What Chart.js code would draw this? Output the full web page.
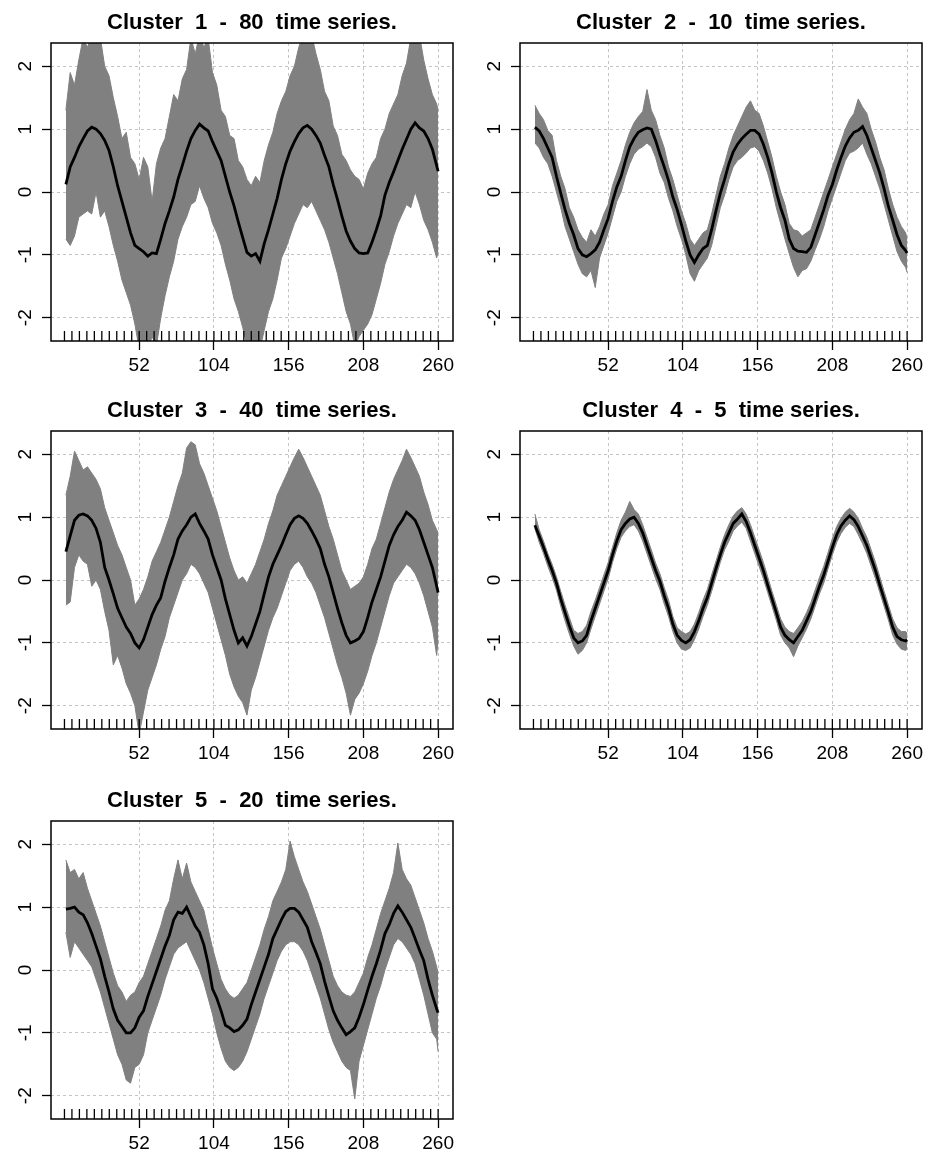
<!DOCTYPE html>
<html><head><meta charset="utf-8">
<script src="https://cdn.jsdelivr.net/npm/chart.js@4.4.0/dist/chart.umd.min.js"></script>
<style>
html,body{margin:0;padding:0;background:#fff;}
#wrap{position:relative;width:931px;height:1153px;background:#fff;}
canvas{position:absolute;}
</style></head><body><div id="wrap">
<canvas id="p1" width="465" height="388" style="left:0px;top:0px"></canvas>
<canvas id="p2" width="465" height="388" style="left:469px;top:0px"></canvas>
<canvas id="p3" width="465" height="388" style="left:0px;top:388px"></canvas>
<canvas id="p4" width="465" height="388" style="left:469px;top:388px"></canvas>
<canvas id="p5" width="465" height="388" style="left:0px;top:778px"></canvas>
</div>
<script>
const X_VALUES=[1,4,7,10,13,16,19,22,25,28,31,
34,37,40,43,46,49,52,55,58,61,64,
67,70,73,76,79,82,85,88,91,94,97,
100,103,106,109,112,115,118,121,124,127,130,
133,136,139,142,145,148,151,154,157,160,163,
166,169,172,175,178,181,184,187,190,193,196,
199,202,205,208,211,214,217,220,223,226,229,
232,235,238,241,244,247,250,253,256,259,260];

const TITLES=["Cluster  1  -  80  time series.","Cluster  2  -  10  time series.","Cluster  3  -  40  time series.","Cluster  4  -  5  time series.","Cluster  5  -  20  time series."];
const X_TICKS=[52,104,156,208,260];
const Y_TICKS=[-2,-1,0,1,2];
const RUG_TICKS=[0,5.2,10.4,15.6,20.8,26,31.2,36.4,41.6,46.8,52,57.2,62.4,67.6,72.8,78,83.2,88.4,93.6,98.8,104,109.2,114.4,119.6,124.8,130,135.2,140.4,145.6,150.8,156,161.2,166.4,171.6,176.8,182,187.2,192.4,197.6,202.8,208,213.2,218.4,223.6,228.8,234,239.2,244.4,249.6,254.8,260];

const C1_MEAN=[0.12,0.40,0.55,0.72,0.85,0.97,1.03,1.00,0.93,0.82,0.66,
0.40,0.10,-0.15,-0.40,-0.65,-0.85,-0.90,-0.95,-1.02,-0.97,-0.98,
-0.75,-0.50,-0.30,-0.08,0.20,0.42,0.65,0.85,0.98,1.08,1.02,
0.97,0.80,0.65,0.50,0.25,0.00,-0.22,-0.48,-0.72,-0.96,-1.02,
-0.98,-1.10,-0.82,-0.60,-0.35,-0.10,0.20,0.45,0.65,0.80,0.93,
1.02,1.06,1.00,0.90,0.78,0.58,0.40,0.12,-0.12,-0.38,-0.62,
-0.78,-0.90,-0.97,-0.98,-0.97,-0.80,-0.60,-0.38,-0.05,0.15,0.32,
0.50,0.68,0.84,1.00,1.10,1.02,0.97,0.85,0.68,0.42,0.33];
const C1_UPPER=[1.30,1.90,1.70,2.10,2.45,2.30,2.50,2.40,2.45,2.00,1.85,
1.50,1.20,0.85,0.95,0.55,0.45,0.20,0.55,0.40,-0.15,0.45,
0.70,0.85,1.20,1.55,1.45,1.80,1.95,2.45,2.20,2.50,2.30,
2.45,1.90,1.70,1.30,1.20,0.90,0.85,0.50,0.40,0.20,0.10,
0.25,0.15,0.50,0.75,0.95,1.25,1.45,1.60,1.85,2.00,2.30,
2.50,2.40,2.50,2.20,1.95,1.60,1.45,1.05,0.90,0.60,0.50,
0.35,0.25,0.20,0.05,0.30,0.45,0.55,0.85,1.00,1.25,1.40,
1.55,1.85,2.05,2.45,2.35,2.50,2.10,1.80,1.55,1.40,1.30];
const C1_LOWER=[-0.75,-0.85,-0.70,-0.40,-0.35,-0.30,-0.35,0.00,-0.40,-0.30,-0.55,
-0.85,-1.10,-1.40,-1.60,-1.80,-2.10,-2.50,-2.45,-2.50,-2.30,-2.45,
-2.00,-1.65,-1.35,-1.10,-0.75,-0.55,-0.40,-0.20,-0.15,0.10,-0.10,
-0.25,-0.50,-0.65,-0.85,-1.15,-1.40,-1.70,-1.90,-2.15,-2.45,-2.50,
-2.40,-2.50,-2.20,-1.90,-1.70,-1.40,-1.05,-0.90,-0.70,-0.50,-0.35,
-0.20,-0.25,-0.15,-0.30,-0.45,-0.60,-0.80,-1.05,-1.30,-1.60,-1.90,
-2.10,-2.45,-2.30,-2.20,-2.10,-1.95,-1.70,-1.45,-1.15,-0.95,-0.70,
-0.50,-0.35,-0.20,-0.25,0.00,-0.20,-0.45,-0.60,-0.80,-1.05,-0.95];

const C2_MEAN=[1.03,0.97,0.85,0.70,0.55,0.25,-0.02,-0.28,-0.50,-0.68,-0.90,
-1.00,-1.03,-0.98,-0.92,-0.80,-0.60,-0.42,-0.15,0.08,0.25,0.50,
0.72,0.85,0.95,0.99,1.02,1.00,0.82,0.60,0.40,0.18,-0.08,
-0.28,-0.52,-0.78,-1.00,-1.12,-1.00,-0.90,-0.85,-0.60,-0.30,-0.02,
0.20,0.45,0.64,0.76,0.85,0.92,0.98,0.98,0.92,0.76,0.55,
0.30,0.00,-0.25,-0.45,-0.75,-0.90,-0.94,-0.95,-0.96,-0.88,-0.68,
-0.48,-0.28,-0.05,0.12,0.35,0.55,0.73,0.86,0.95,0.98,1.04,
0.90,0.70,0.50,0.30,0.05,-0.23,-0.45,-0.68,-0.85,-0.93,-0.97];
const C2_UPPER=[1.38,1.25,1.15,0.98,0.90,0.50,0.25,0.05,-0.25,-0.40,-0.60,
-0.72,-0.80,-0.60,-0.70,-0.55,-0.35,-0.20,0.10,0.30,0.50,0.75,
0.95,1.10,1.20,1.28,1.63,1.30,1.15,0.90,0.70,0.40,0.20,
-0.05,-0.30,-0.50,-0.75,-0.85,-0.75,-0.65,-0.60,-0.35,-0.05,0.25,
0.45,0.70,0.90,1.05,1.20,1.35,1.45,1.30,1.25,1.05,0.80,
0.55,0.25,0.00,-0.20,-0.50,-0.60,-0.62,-0.70,-0.65,-0.60,-0.40,
-0.20,0.00,0.20,0.40,0.60,0.80,1.00,1.15,1.25,1.48,1.35,
1.25,1.00,0.80,0.55,0.35,0.05,-0.20,-0.40,-0.55,-0.65,-0.75];
const C2_LOWER=[0.78,0.70,0.55,0.45,0.25,0.00,-0.25,-0.55,-0.75,-0.95,-1.15,
-1.30,-1.35,-1.25,-1.52,-1.05,-0.85,-0.65,-0.40,-0.15,0.00,0.25,
0.45,0.60,0.68,0.72,0.78,0.72,0.55,0.30,0.15,-0.10,-0.30,
-0.55,-0.75,-1.00,-1.30,-1.42,-1.25,-1.15,-1.05,-0.85,-0.55,-0.25,
-0.05,0.20,0.40,0.50,0.55,0.62,0.70,0.72,0.65,0.50,0.30,
0.05,-0.25,-0.50,-0.75,-0.98,-1.20,-1.35,-1.25,-1.22,-1.10,-0.92,
-0.75,-0.55,-0.30,-0.10,0.10,0.30,0.50,0.62,0.65,0.70,0.78,
0.60,0.45,0.25,0.05,-0.20,-0.45,-0.70,-0.95,-1.10,-1.20,-1.28];

const C3_MEAN=[0.45,0.70,0.95,1.03,1.05,1.02,0.95,0.82,0.60,0.20,0.00,
-0.22,-0.45,-0.60,-0.75,-0.85,-1.00,-1.08,-0.95,-0.75,-0.55,-0.40,
-0.28,-0.02,0.20,0.40,0.65,0.78,0.88,1.00,1.05,0.90,0.78,
0.65,0.40,0.20,0.00,-0.30,-0.55,-0.80,-1.00,-0.92,-1.05,-0.90,
-0.70,-0.50,-0.22,0.05,0.25,0.40,0.55,0.72,0.88,0.98,1.02,
0.98,0.90,0.78,0.65,0.50,0.25,0.05,-0.20,-0.45,-0.68,-0.88,
-1.00,-0.97,-0.93,-0.82,-0.60,-0.35,-0.15,0.05,0.30,0.55,0.72,
0.85,0.95,1.08,1.02,0.95,0.80,0.60,0.40,0.20,-0.10,-0.20];
const C3_UPPER=[1.35,1.65,2.05,1.90,1.75,1.80,1.70,1.60,1.45,1.15,0.95,
0.75,0.55,0.40,0.20,0.00,-0.40,-0.30,-0.15,0.05,0.30,0.45,
0.60,0.80,1.00,1.25,1.50,1.70,2.10,2.20,2.15,1.85,1.70,
1.50,1.30,1.10,0.85,0.60,0.35,0.15,0.00,0.05,-0.05,0.10,
0.25,0.45,0.65,0.90,1.10,1.35,1.50,1.65,1.80,1.95,2.08,
1.95,1.80,1.65,1.50,1.35,1.10,0.85,0.65,0.40,0.15,0.00,
-0.15,-0.10,-0.05,0.05,0.25,0.50,0.65,0.90,1.15,1.40,1.60,
1.75,1.90,2.08,1.95,1.80,1.65,1.40,1.20,0.95,0.80,0.75];
const C3_LOWER=[-0.40,-0.35,0.20,0.40,0.30,0.25,-0.10,0.00,-0.15,-0.50,-0.80,
-1.35,-1.20,-1.40,-1.65,-1.80,-2.00,-2.45,-2.10,-1.75,-1.55,-1.35,
-1.10,-0.90,-0.60,-0.40,-0.20,0.00,0.10,0.25,0.20,0.10,-0.05,
-0.20,-0.45,-0.70,-0.95,-1.20,-1.50,-1.70,-1.85,-1.95,-2.15,-1.75,
-1.55,-1.30,-1.05,-0.80,-0.60,-0.45,-0.25,-0.05,0.15,0.25,0.30,
0.20,0.05,-0.05,-0.20,-0.40,-0.60,-0.85,-1.10,-1.35,-1.55,-1.80,
-2.15,-1.90,-1.80,-1.65,-1.45,-1.20,-1.00,-0.75,-0.50,-0.25,-0.05,
0.05,0.15,0.25,0.20,0.10,-0.05,-0.25,-0.50,-0.75,-1.20,-0.95];

const C4_MEAN=[0.87,0.70,0.52,0.33,0.15,-0.05,-0.30,-0.52,-0.73,-0.92,-1.00,
-0.97,-0.88,-0.65,-0.45,-0.25,-0.05,0.15,0.40,0.62,0.80,0.90,
0.97,1.00,0.90,0.75,0.55,0.35,0.15,-0.02,-0.25,-0.45,-0.70,
-0.88,-0.96,-1.00,-0.95,-0.82,-0.65,-0.45,-0.28,-0.05,0.18,0.40,
0.60,0.75,0.90,0.97,1.05,0.93,0.75,0.55,0.35,0.15,-0.08,
-0.30,-0.52,-0.75,-0.88,-0.95,-1.00,-0.90,-0.80,-0.65,-0.50,-0.30,
-0.10,0.08,0.30,0.52,0.72,0.86,0.95,1.02,0.96,0.85,0.70,
0.55,0.35,0.15,-0.08,-0.30,-0.52,-0.75,-0.90,-0.95,-0.97,-0.95];
const C4_UPPER=[1.05,0.80,0.62,0.42,0.25,0.05,-0.18,-0.40,-0.60,-0.80,-0.85,
-0.82,-0.72,-0.50,-0.32,-0.12,0.08,0.28,0.52,0.75,0.95,1.08,
1.25,1.12,1.05,0.88,0.68,0.48,0.27,0.10,-0.12,-0.32,-0.58,
-0.76,-0.82,-0.86,-0.82,-0.70,-0.52,-0.32,-0.15,0.08,0.30,0.52,
0.72,0.88,1.02,1.10,1.15,1.05,0.88,0.68,0.48,0.28,0.05,
-0.18,-0.40,-0.62,-0.75,-0.82,-0.85,-0.76,-0.66,-0.52,-0.36,-0.16,
0.04,0.22,0.44,0.66,0.85,0.98,1.08,1.14,1.08,0.98,0.82,
0.68,0.48,0.28,0.05,-0.18,-0.40,-0.62,-0.76,-0.82,-0.82,-0.85];
const C4_LOWER=[0.82,0.60,0.42,0.22,0.04,-0.16,-0.42,-0.65,-0.86,-1.05,-1.18,
-1.12,-1.00,-0.78,-0.58,-0.38,-0.18,0.02,0.28,0.50,0.68,0.78,
0.85,0.88,0.78,0.62,0.42,0.22,0.02,-0.15,-0.38,-0.58,-0.82,
-1.00,-1.10,-1.12,-1.08,-0.95,-0.78,-0.58,-0.40,-0.18,0.05,0.28,
0.48,0.62,0.78,0.86,0.92,0.82,0.62,0.42,0.22,0.02,-0.20,
-0.42,-0.64,-0.88,-1.00,-1.08,-1.22,-1.05,-0.92,-0.78,-0.62,-0.42,
-0.22,-0.05,0.18,0.40,0.60,0.74,0.84,0.90,0.85,0.72,0.58,
0.42,0.22,0.02,-0.20,-0.42,-0.64,-0.88,-1.02,-1.10,-1.12,-1.10];

const C5_MEAN=[0.97,0.98,1.00,0.92,0.88,0.75,0.58,0.38,0.18,-0.10,-0.35,
-0.62,-0.80,-0.90,-1.00,-1.00,-0.92,-0.75,-0.65,-0.42,-0.22,-0.02,
0.18,0.38,0.55,0.80,0.92,0.90,1.00,0.85,0.70,0.60,0.40,
0.10,-0.30,-0.45,-0.65,-0.88,-0.92,-0.98,-0.95,-0.88,-0.78,-0.55,
-0.35,-0.15,0.05,0.25,0.50,0.65,0.80,0.93,0.98,0.98,0.92,
0.80,0.68,0.45,0.28,0.10,-0.18,-0.42,-0.65,-0.80,-0.92,-1.03,
-0.98,-0.92,-0.75,-0.55,-0.32,-0.10,0.10,0.32,0.58,0.72,0.90,
1.02,0.92,0.80,0.68,0.50,0.32,0.15,-0.15,-0.40,-0.62,-0.68];
const C5_UPPER=[1.75,1.55,1.60,1.45,1.55,1.30,1.10,0.90,0.70,0.45,0.20,
-0.05,-0.25,-0.35,-0.50,-0.40,-0.35,-0.20,-0.10,0.10,0.30,0.50,
0.70,0.95,1.10,1.45,1.75,1.45,1.70,1.40,1.25,1.10,0.95,
0.65,0.35,0.10,-0.15,-0.30,-0.40,-0.45,-0.40,-0.30,-0.20,0.00,
0.20,0.40,0.65,0.85,1.10,1.25,1.40,1.60,2.05,1.80,1.60,
1.40,1.25,1.05,0.85,0.65,0.40,0.15,-0.10,-0.25,-0.35,-0.40,
-0.42,-0.35,-0.20,-0.05,0.20,0.40,0.65,0.90,1.10,1.30,1.55,
2.02,1.60,1.45,1.35,1.15,0.95,0.75,0.50,0.30,0.05,-0.05];
const C5_LOWER=[0.60,0.20,0.45,0.35,0.25,0.15,0.05,-0.15,-0.35,-0.60,-0.85,
-1.10,-1.35,-1.50,-1.75,-1.80,-1.55,-1.50,-1.35,-1.00,-0.80,-0.60,
-0.40,-0.15,0.05,0.25,0.35,0.40,0.45,0.30,0.15,0.00,-0.20,
-0.45,-0.70,-1.00,-1.25,-1.45,-1.55,-1.60,-1.55,-1.45,-1.30,-1.10,
-0.90,-0.70,-0.45,-0.25,-0.05,0.15,0.30,0.40,0.45,0.45,0.40,
0.30,0.15,-0.05,-0.25,-0.45,-0.70,-0.95,-1.15,-1.30,-1.45,-1.55,
-1.60,-2.05,-1.45,-1.20,-0.95,-0.70,-0.45,-0.25,0.00,0.20,0.40,
0.50,0.45,0.35,0.25,0.10,-0.15,-0.40,-0.70,-1.00,-1.10,-1.30];

const X_MIN=-9.36, X_MAX=270.36, Y_MIN=-2.37, Y_MAX=2.37;
const FONT="'Liberation Sans', Arial, Helvetica, sans-serif";
Chart.defaults.font.family=FONT;

const framePlugin={id:'frame',afterDatasetsDraw(chart){const ctx=chart.ctx,a=chart.chartArea;ctx.save();ctx.strokeStyle='#000';ctx.lineWidth=1.5;ctx.setLineDash([]);ctx.strokeRect(a.left,a.top,a.right-a.left,a.bottom-a.top);ctx.restore();}};

function pts(ys){return X_VALUES.map((x,i)=>({x:x,y:ys[i]}));}

function axisGrid(){return {color:'#c4c4c4',lineWidth:1,tickColor:'#000',tickLength:9,tickWidth:1.3,drawTicks:true};}

function makeChart(id,title,mean,upper,lower){
  new Chart(document.getElementById(id),{
    type:'line',
    data:{datasets:[
      {label:'mean',data:pts(mean),borderColor:'#000',borderWidth:2.8,pointRadius:0,fill:false,order:0},
      {label:'rug',data:RUG_TICKS.map(x=>({x:x,y:Y_MIN+0.08})),showLine:false,pointStyle:'line',rotation:90,pointRadius:5,pointBorderColor:'#000',borderColor:'#000',pointBorderWidth:1.3,order:1},
      {label:'upper',data:pts(upper),borderColor:'#808080',backgroundColor:'#808080',borderWidth:1,pointRadius:0,fill:'+1',order:2},
      {label:'lower',data:pts(lower),borderColor:'#808080',backgroundColor:'#808080',borderWidth:1,pointRadius:0,fill:false,order:3}
    ]},
    options:{
      responsive:false,animation:false,devicePixelRatio:1,
      layout:{padding:{left:0,right:12,top:0,bottom:0}},
      elements:{line:{tension:0}},
      plugins:{
        legend:{display:false},tooltip:{enabled:false},
        title:{display:true,text:title,fullSize:false,color:'#000',
          font:{family:FONT,size:22,weight:'bold',lineHeight:1.2},padding:{top:10,bottom:6.6}}
      },
      scales:{
        x:{type:'linear',min:X_MIN,max:X_MAX,
          afterBuildTicks(s){s.ticks=X_TICKS.map(v=>({value:v}));},
          afterFit(s){s.height=47;},
          ticks:{color:'#000',font:{family:FONT,size:19},padding:4,maxRotation:0,autoSkip:false,callback:v=>String(v)},
          grid:axisGrid(),border:{display:false,dash:[3,3]}},
        y:{type:'linear',min:Y_MIN,max:Y_MAX,
          afterBuildTicks(s){s.ticks=Y_TICKS.map(v=>({value:v}));},
          afterFit(s){s.width=51;},
          ticks:{color:'#000',font:{family:FONT,size:19},padding:8,minRotation:90,maxRotation:90,crossAlign:'center',autoSkip:false,callback:v=>String(v)},
          grid:axisGrid(),border:{display:false,dash:[3,3]}}
      }
    },
    plugins:[framePlugin]
  });
}

makeChart('p1',TITLES[0],C1_MEAN,C1_UPPER,C1_LOWER);
makeChart('p2',TITLES[1],C2_MEAN,C2_UPPER,C2_LOWER);
makeChart('p3',TITLES[2],C3_MEAN,C3_UPPER,C3_LOWER);
makeChart('p4',TITLES[3],C4_MEAN,C4_UPPER,C4_LOWER);
makeChart('p5',TITLES[4],C5_MEAN,C5_UPPER,C5_LOWER);
</script></body></html>
